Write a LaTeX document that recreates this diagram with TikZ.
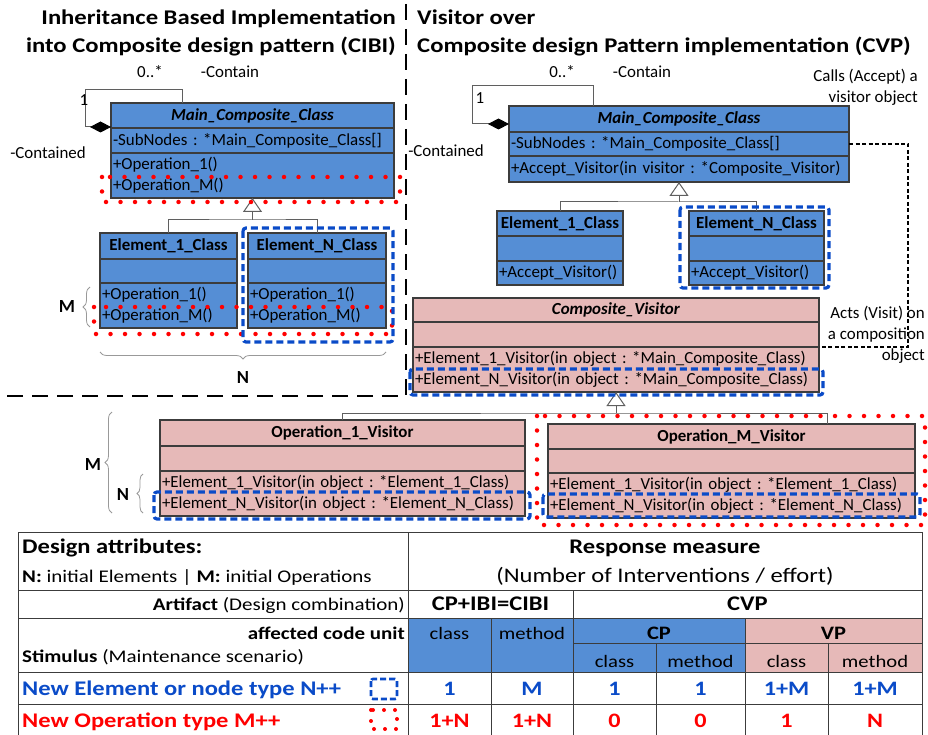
\documentclass[tikz,border=0pt]{standalone}
\usepackage{fontspec}
\setmainfont{Carlito}
\newfontfamily\wideface{Carlito}[FakeStretch=1.18]
\usetikzlibrary{arrows.meta,positioning,calc,decorations.pathreplacing}
\definecolor{umlblue}{RGB}{85,142,213}
\definecolor{umlpink}{RGB}{230,185,184}
\definecolor{umledge}{RGB}{60,60,60}
\definecolor{umlline}{RGB}{95,95,95}
\definecolor{markblue}{RGB}{10,75,200}
\definecolor{markred}{RGB}{255,0,0}
\newcommand{\umltext}{\fontsize{16.9}{21}\selectfont}
\newcommand{\headtext}{\wideface\fontsize{20.9}{29}\selectfont\bfseries}
\newcommand{\tabtext}[1]{\wideface\fontsize{#1}{23}\selectfont}
\frenchspacing

\begin{document}
\begin{tikzpicture}[x=1pt,y=-1pt,
  every node/.style={font=\umltext,inner sep=0pt},
  part/.style={draw=umledge,line width=1.2pt,outer sep=0pt,inner xsep=2pt,inner ysep=0pt},
  clshead/.style={part,minimum width=#1,font=\umltext\bfseries},
  clsbody/.style={part,text width=#1,align=left},
  assoc/.style={draw=umlline,line width=1pt},
  gen/.style={assoc,-{Triangle[length=14pt,width=19pt,fill=white]}},
  comp/.style={assoc,{Diamond[length=21pt,width=11pt,color=black]}-},
  calls/.style={line width=1.6pt,dash pattern=on 4pt off 2.5pt},
  sepline/.style={line width=2.6pt,dash pattern=on 16pt off 9pt},
  newelem/.style={draw=markblue,line width=3.2pt,dash pattern=on 7pt off 4pt,rounded corners=3pt},
  newop/.style={draw=markred,line width=4.5pt,dash pattern=on 0pt off 14.5pt,line cap=round},
  brc/.style={draw=black!40,line width=0.8pt,decorate,decoration={brace,amplitude=#1}},
  tab/.style={draw=umledge,line width=1pt},
  tabtxt/.style={font=\tabtext{#1},anchor=base},
  tabtxt/.default=17.5,
  tabbold/.style={font=\tabtext{#1}\bfseries,anchor=base}]
  \useasboundingbox (0,0) rectangle (928,735);

  % titles and separators
  \node[font=\headtext,anchor=base east] (titleL1) at (396,25) {Inheritance Based Implementation};
  \node[font=\headtext,anchor=base east] (titleL2) at (396,53) {into Composite design pattern (CIBI)};
  \node[font=\headtext,anchor=base west] (titleR1) at (417,25) {Visitor over};
  \node[font=\headtext,anchor=base west] (titleR2) at (417,53) {Composite design Pattern implementation (CVP)};
  \draw[sepline] (406,4) -- (406,396) -- (4,396);

  % CIBI: composite with inherited operations
  \node[clshead=283pt,fill=umlblue,anchor=north west,minimum height=25pt] (mainL) at (111,103) {\textit{Main\_Composite\_Class}};
  \node[clsbody=279pt,fill=umlblue,minimum height=25pt,below=0pt of mainL] (mainLa) {-SubNodes : *Main\_Composite\_Class[]};
  \node[clsbody=279pt,fill=umlblue,minimum height=45pt,below=0pt of mainLa] (mainLo) {+Operation\_1()\\+Operation\_M()};
  \node[clshead=137pt,fill=umlblue,anchor=north west,minimum height=26pt] (e1L) at (100,233) {Element\_1\_Class};
  \node[clsbody=133pt,fill=umlblue,minimum height=24pt,below=0pt of e1L] (e1La) {};
  \node[clsbody=133pt,fill=umlblue,minimum height=45pt,below=0pt of e1La] (e1Lo) {+Operation\_1()\\+Operation\_M()};
  \node[clshead=138pt,fill=umlblue,anchor=north west,minimum height=26pt] (eNL) at (248,233) {Element\_N\_Class};
  \node[clsbody=134pt,fill=umlblue,minimum height=24pt,below=0pt of eNL] (eNLa) {};
  \node[clsbody=134pt,fill=umlblue,minimum height=45pt,below=0pt of eNLa] (eNLo) {+Operation\_1()\\+Operation\_M()};

  \coordinate (loopL) at (182,90);
  \coordinate (jL) at (252.5,220);
  \draw[comp] ([yshift=1pt]mainL.south west) -- ++(-26,0) |- (loopL) -- (loopL |- mainL.north);
  \draw[assoc] (e1L.north) |- (jL) -| (eNL.north);
  \draw[gen] (jL) -- (mainLo.south);
  \node (mulL) at (150,72) {0..*};
  \node (roleL) at (230,72) {-Contain};
  \node (oneL) at (84,100) {1};
  \node (partL) at (48,153) {-Contained};

  \draw[newop] (102,177) rectangle (400,202);
  \draw[newop] (94,307) rectangle (392,334);
  \draw[newelem] (243,228) rectangle (393,342);
  \draw[brc=7pt] (90,327) -- (90,287);
  \draw[brc=7pt] (386,352) -- (100,352);
  \node[font=\fontsize{18.5}{22}\selectfont\bfseries] (ML) at (67,307) {M};
  \node[font=\fontsize{18.5}{22}\selectfont\bfseries] (NL) at (243,377) {N};

  % CVP: visitor over the composite
  \node[clshead=340pt,fill=umlblue,anchor=north west,minimum height=26pt] (mainR) at (509,106) {\textit{Main\_Composite\_Class}};
  \node[clsbody=336pt,fill=umlblue,minimum height=24pt,below=0pt of mainR] (mainRa) {-SubNodes : *Main\_Composite\_Class[]};
  \node[clsbody=336pt,fill=umlblue,minimum height=26pt,below=0pt of mainRa] (mainRo) {+Accept\_Visitor(in visitor : *Composite\_Visitor)};
  \node[clshead=126pt,fill=umlblue,anchor=north west,minimum height=25pt] (e1R) at (497,211) {Element\_1\_Class};
  \node[clsbody=122pt,fill=umlblue,minimum height=25pt,below=0pt of e1R] (e1Ra) {};
  \node[clsbody=122pt,fill=umlblue,minimum height=24pt,below=0pt of e1Ra] (e1Ro) {+Accept\_Visitor()};
  \node[clshead=135pt,fill=umlblue,anchor=north west,minimum height=25pt] (eNR) at (689,211) {Element\_N\_Class};
  \node[clsbody=131pt,fill=umlblue,minimum height=25pt,below=0pt of eNR] (eNRa) {};
  \node[clsbody=131pt,fill=umlblue,minimum height=24pt,below=0pt of eNRa] (eNRo) {+Accept\_Visitor()};

  \node[clshead=406pt,fill=umlpink,anchor=north west,minimum height=24pt] (cv) at (413,298) {\textit{Composite\_Visitor}};
  \node[clsbody=402pt,fill=umlpink,minimum height=25pt,below=0pt of cv] (cva) {};
  \node[clsbody=402pt,fill=umlpink,minimum height=45pt,below=0pt of cva] (cvo) {+Element\_1\_Visitor(in object : *Main\_Composite\_Class)\\+Element\_N\_Visitor(in object : *Main\_Composite\_Class)};
  \node[clshead=365pt,fill=umlpink,anchor=north west,minimum height=26pt] (op1) at (160,420) {Operation\_1\_Visitor};
  \node[clsbody=361pt,fill=umlpink,minimum height=25pt,below=0pt of op1] (op1a) {};
  \node[clsbody=361pt,fill=umlpink,minimum height=45pt,below=0pt of op1a] (op1o) {+Element\_1\_Visitor(in object : *Element\_1\_Class)\\+Element\_N\_Visitor(in object : *Element\_N\_Class)};
  \node[clshead=367pt,fill=umlpink,anchor=north west,minimum height=25pt] (opM) at (548,424) {Operation\_M\_Visitor};
  \node[clsbody=363pt,fill=umlpink,minimum height=24pt,below=0pt of opM] (opMa) {};
  \node[clsbody=363pt,fill=umlpink,minimum height=45pt,below=0pt of opMa] (opMo) {+Element\_1\_Visitor(in object : *Element\_1\_Class)\\+Element\_N\_Visitor(in object : *Element\_N\_Class)};

  \coordinate (loopR) at (593,86);
  \coordinate (jR) at (679,202);
  \coordinate (jB) at (616,413);
  \coordinate (opMjoin) at (827,424);
  \coordinate (rcol) at (908,347);
  \draw[comp] ([yshift=8pt]mainR.south west) -- ++(-37,0) |- (loopR) -- (loopR |- mainR.north);
  \draw[assoc] (e1R.north) |- (jR) -| (eNR.north);
  \draw[gen] (jR) -- (mainRo.south);
  \draw[assoc] (op1.north) |- (jB) -| (opMjoin);
  \draw[gen] (jB) -- (cvo.south);
  \draw[calls] (mainRa.east) -| (rcol) -- (cva.south east);
  \node (mulR) at (562,72) {0..*};
  \node (roleR) at (642,72) {-Contain};
  \node (oneR) at (480,98) {1};
  \node (partR) at (446,151) {-Contained};
  \node[align=right,anchor=north east] (callsR) at (918,69) {Calls (Accept) a\\visitor object};
  \node[align=right,anchor=north east] (actsR) at (925,306) {Acts (Visit) on\\a composition\\object};

  \draw[newelem] (680,207) rectangle (829,288);
  \draw[newelem] (410,369) rectangle (823,395);
  \draw[newelem] (154,492) rectangle (530,519);
  \draw[newelem] (543,494) rectangle (920,517);
  \draw[newop] (537,416) rectangle (925,525);
  \draw[brc=7pt] (112,513) -- (112,412);
  \draw[brc=6pt] (143,513) -- (143,474);
  \node[font=\fontsize{18.5}{22}\selectfont\bfseries] (MB) at (93,464) {M};
  \node[font=\fontsize{18.5}{22}\selectfont\bfseries] (NB) at (123,494) {N};

  % quality attribute table
  \fill[umlblue] (408,618) rectangle (745,672);
  \fill[umlpink] (745,618) rectangle (922,672);
  \draw[tab] (18,735) -- (18,532) -- (922,532) -- (922,735);
  \draw[tab] (408,532) -- (408,735);
  \draw[tab] (18,590) -- (922,590) (18,618) -- (922,618) (18,672) -- (922,672) (18,704) -- (922,704);
  \draw[tab] (573,643) -- (922,643);
  \draw[tab] (573,590) -- (573,735) (491,618) -- (491,735) (745,618) -- (745,735);
  \draw[tab] (656,643) -- (656,735) (828,643) -- (828,735);

  \node[tabbold=20.8,anchor=base west] (attr) at (22,553) {Design attributes:};
  \node[tabtxt=17.8,anchor=base west] (legendNM) at (22,582) {\textbf{N:} initial Elements | \textbf{M:} initial Operations};
  \node[tabtxt=17.8,anchor=base east] (artifact) at (405,610) {\textbf{Artifact} (Design combination)};
  \node[tabbold=17.8,anchor=base east] (unit) at (405,639) {affected code unit};
  \node[tabtxt=17.8,anchor=base west] (stimulus) at (22,662) {\textbf{Stimulus} (Maintenance scenario)};
  \node[tabbold=20.8,anchor=base west,text=markblue] (newN) at (22,695) {New Element or node type N++};
  \node[tabbold=20.8,anchor=base west,text=markred] (newM) at (22,727) {New Operation type M++};
  \draw[newelem,line width=2.6pt,dash pattern=on 6pt off 3pt,rounded corners=2pt] (371,679) rectangle (397,699);
  \draw[newop,line width=4pt,dash pattern=on 0pt off 11pt] (371,710) rectangle (397,729);

  \node[tabbold=20.8] (resp) at (665,553) {Response measure};
  \node[tabtxt=20.8] (effort) at (665,582) {(Number of Interventions / effort)};
  \node[tabbold=20.8] (cibi) at (490.5,610) {CP+IBI=CIBI};
  \node[tabbold=20.8] (cvp) at (747.5,610) {CVP};
  \node[tabtxt] (cls1) at (449.5,639) {class};
  \node[tabtxt] (mth1) at (532,639) {method};
  \node[tabbold=19] (cp) at (659,639) {CP};
  \node[tabbold=19] (vp) at (833.5,639) {VP};
  \foreach \cx/\word [count=\i] in {614.5/class,700.5/method,786.5/class,875/method}
    \node[tabtxt] (sub\i) at (\cx,667) {\word};
  \foreach \cx/\nv/\ov [count=\i] in {449.5/1/1+N,532/M/1+N,614.5/1/0,700.5/1/0,786.5/1+M/1,875/1+M/N} {
    \node[tabbold=20.5,text=markblue] (nv\i) at (\cx,695) {\nv};
    \node[tabbold=20.5,text=markred] (ov\i) at (\cx,727) {\ov};
  }
\end{tikzpicture}
\end{document}
